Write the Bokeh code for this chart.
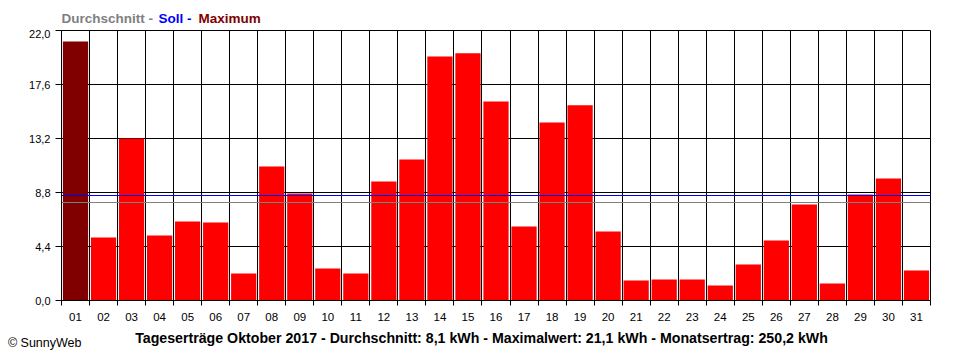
from bokeh.plotting import figure
from bokeh.layouts import column
from bokeh.models import Range1d, FixedTicker, CustomJSTickFormatter, ColumnDataSource, LinearAxis
from bokeh.core.properties import value
from bokeh.embed import file_html
from bokeh.resources import INLINE

# ---- data ----
days = list(range(1, 32))
ertrag = [21.1, 5.14, 13.2, 5.30, 6.44, 6.36, 2.20, 10.92, 8.72, 2.61, 2.20,
          9.70, 11.49, 19.89, 20.14, 16.22, 6.03, 14.51, 15.90, 5.63, 1.63,
          1.71, 1.71, 1.22, 2.93, 4.89, 7.83, 1.39, 8.64, 9.95, 2.45]
durchschnitt_line = 7.96
soll_line = 8.53
y_ticks = [0.0, 4.4, 8.8, 13.2, 17.6, 22.0]
legend_parts = ["Durchschnitt -", "Soll -", "Maximum"]
legend_colors = ["#808080", "#0000FF", "#800000"]
title_text = ("Tageserträge Oktober 2017 - Durchschnitt: 8,1 kWh - "
              "Maximalwert: 21,1 kWh - Monatsertrag: 250,2 kWh")
copyright_text = "© SunnyWeb"

FONT = "Liberation Sans"
W = 952
LEFT, RIGHT = 61, 22

max_val = max(ertrag)
colors = ["#800000" if v == max_val else "#FF0000" for v in ertrag]
src = ColumnDataSource(dict(x=days, top=ertrag, color=colors))


def text_strip(height):
    # frame is aligned with the main chart's frame; x data = page pixel
    f = figure(width=W, height=height, output_backend="svg", toolbar_location=None,
               x_range=Range1d(LEFT, W - RIGHT), y_range=Range1d(height, 0),
               x_axis_location=None, y_axis_location=None,
               min_border_left=LEFT, min_border_right=RIGHT,
               min_border_top=0, min_border_bottom=0, title=None)
    f.grid.visible = False
    f.outline_line_color = None
    f.background_fill_color = "white"
    f.border_fill_color = "white"
    return f


# ---- top strip: legend ----
top = text_strip(29)
top.text(x=[61, 158, 198], y=[17.7, 17.7, 17.7], text=legend_parts,
         text_color=legend_colors, text_font=value(FONT), text_font_style="bold",
         text_font_size="13.5px", text_align="left", text_baseline="alphabetic")

# ---- main chart ----
p = figure(width=W, height=299, output_backend="svg", toolbar_location=None,
           x_range=Range1d(0.5, 31.5), y_range=Range1d(0, 22),
           min_border_left=LEFT, min_border_right=RIGHT, min_border_top=1, min_border_bottom=28,
           title=None)
p.background_fill_color = "white"
p.border_fill_color = "white"
p.outline_line_color = "black"
p.outline_line_width = 1

boundaries = [d - 0.5 for d in days] + [31.5]

p.vbar(x="x", top="top", bottom=0, width=0.9, color="color", line_color=None, source=src)
p.hspan(y=[soll_line], line_color="#0000FF", line_width=1)
p.hspan(y=[durchschnitt_line], line_color="#808080", line_width=1)

p.xgrid.ticker = FixedTicker(ticks=boundaries)
p.xgrid.grid_line_color = "black"
p.xgrid.grid_line_width = 1
p.ygrid.ticker = FixedTicker(ticks=y_ticks)
p.ygrid.grid_line_color = "black"
p.ygrid.grid_line_width = 1

xa = p.xaxis[0]
xa.ticker = FixedTicker(ticks=days, minor_ticks=boundaries)
xa.formatter = CustomJSTickFormatter(code="return String(tick).padStart(2, '0');")
xa.major_tick_out = 0
xa.major_tick_in = 0
xa.minor_tick_out = 5
xa.minor_tick_in = 0
xa.minor_tick_line_color = "black"
xa.axis_line_color = "black"
xa.major_label_text_font = FONT
xa.major_label_text_font_size = "11.5px"
xa.major_label_text_color = "black"
xa.major_label_standoff = 7

ya = p.yaxis[0]
ya.ticker = FixedTicker(ticks=y_ticks)
ya.formatter = CustomJSTickFormatter(code="return tick.toFixed(1).replace('.', ',');")
ya.major_tick_out = 6
ya.major_tick_in = 0
ya.minor_tick_out = 0
ya.minor_tick_in = 0
ya.axis_line_color = "black"
ya.major_tick_line_color = "black"
ya.major_label_text_font = FONT
ya.major_label_text_font_size = "11px"
ya.major_label_text_color = "black"
ya.major_label_standoff = 5

# ---- bottom strip: title (in frame) and copyright (as an axis label in the left border) ----
bottom = text_strip(24)
bottom.text(x=[481], y=[9.5], text=[title_text], text_color="black",
            text_font=value(FONT), text_font_style="bold", text_font_size="14.2px",
            text_align="center", text_baseline="alphabetic")
cax = LinearAxis(ticker=FixedTicker(ticks=[20]),
                 formatter=CustomJSTickFormatter(code="return '%s';" % copyright_text))
cax.axis_line_color = None
cax.major_tick_line_color = None
cax.minor_tick_line_color = None
cax.major_tick_out = 0
cax.major_tick_in = 0
cax.minor_tick_out = 0
cax.minor_tick_in = 0
cax.major_label_standoff = -20
cax.major_label_text_font = FONT
cax.major_label_text_font_size = "12.5px"
cax.major_label_text_color = "black"
bottom.add_layout(cax, "left")

layout = column(top, p, bottom, spacing=0)
open("out.html", "w").write(file_html(layout, INLINE))
